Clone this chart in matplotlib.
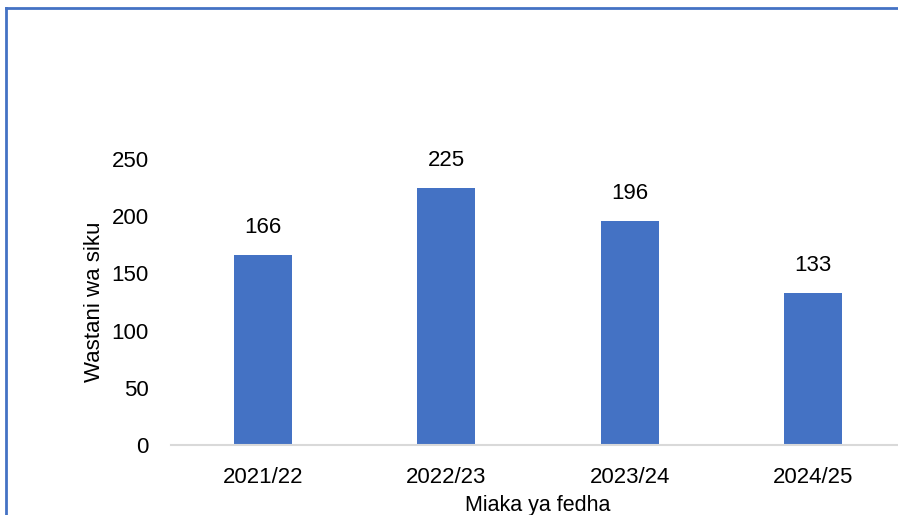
import matplotlib
matplotlib.use("Agg")
import matplotlib.pyplot as plt
from matplotlib.lines import Line2D

plt.rcParams["font.family"] = ["Liberation Sans", "DejaVu Sans"]

years = ["2021/22", "2022/23", "2023/24", "2024/25"]
avg_days = [166, 225, 196, 133]
yticks = [0, 50, 100, 150, 200, 250]

BAR_COLOR = "#4472C4"
W, H = 898, 515

fig = plt.figure(figsize=(W / 100, H / 100), dpi=100)
# plot area: x axis from px 171 to ~905 (runs off the right edge), y 0 at px 445, 250 at px 159
ax = fig.add_axes([171 / W, (H - 445) / H, 734 / W, 286 / H])

x = list(range(len(years)))
ax.bar(x, avg_days, width=0.316, color=BAR_COLOR, zorder=2)
for xi, v in zip(x, avg_days):
    ax.annotate(str(v), xy=(xi, v), xytext=(0, 12), textcoords="offset points",
                ha="center", va="bottom", fontsize=16, color="black",
                annotation_clip=False)

ax.set_xlim(-0.5, 3.5)
ax.set_ylim(0, 250)
ax.set_xticks(x)
ax.set_xticklabels(years, fontsize=16)
ax.set_yticks(yticks)
ax.set_yticklabels([str(t) for t in yticks], fontsize=16)
ax.tick_params(axis="x", length=0, pad=16)
ax.tick_params(axis="y", length=0, pad=16)

for s in ["top", "right", "left"]:
    ax.spines[s].set_visible(False)
ax.spines["bottom"].set_color("#D9D9D9")
ax.spines["bottom"].set_linewidth(1.5)

ax.set_ylabel("Wastani wa siku", fontsize=16, labelpad=5)
ax.set_xlabel("Miaka ya fedha", fontsize=15.5, labelpad=5)

# chart frame, only top and left edges visible in the crop
fig.add_artist(Line2D([6 / W, 6 / W], [0, 1 - 7.5 / H], color=BAR_COLOR, lw=2,
                      transform=fig.transFigure))
fig.add_artist(Line2D([6 / W, 1], [1 - 7.5 / H, 1 - 7.5 / H], color=BAR_COLOR, lw=2,
                      transform=fig.transFigure))

fig.savefig("out.png", dpi=100)
